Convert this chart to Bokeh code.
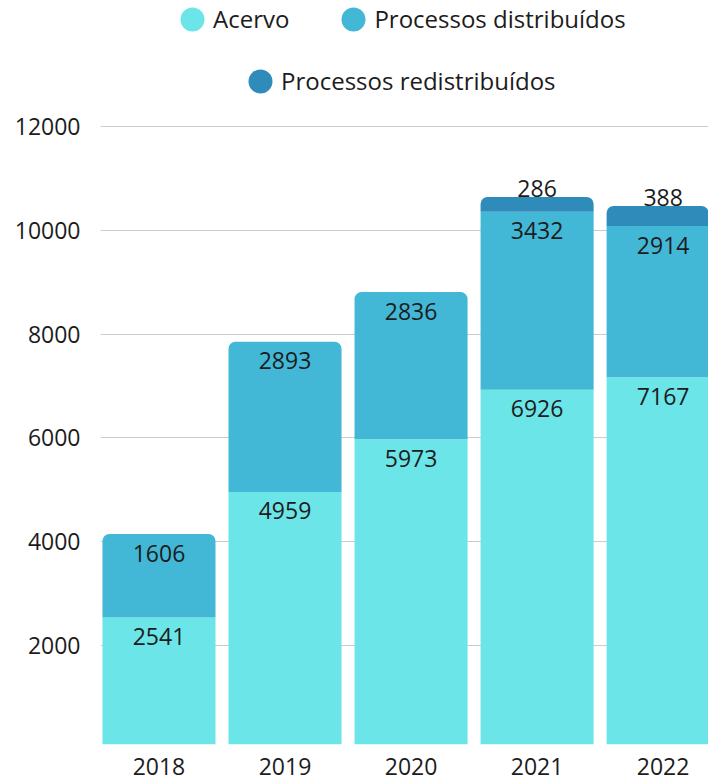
from bokeh.plotting import figure
from bokeh.models import (ColumnDataSource, Range1d, FixedTicker, Legend, LegendItem,
                          CDSView, IndexFilter)
from bokeh.core.properties import value
from bokeh.embed import file_html
from bokeh.resources import INLINE

years = ["2018", "2019", "2020", "2021", "2022"]
acervo = [2541, 4959, 5973, 6926, 7167]
distribuidos = [1606, 2893, 2836, 3432, 2914]
redistribuidos = [0, 0, 0, 286, 388]
y_ticks = [2000, 4000, 6000, 8000, 10000, 12000]

series_names = ["Acervo", "Processos distribuídos", "Processos redistribuídos"]
colors = ["#6be5e8", "#42b8d6", "#2e8bba"]
FONT = "Open Sans"
TXT = "#1c1c1c"

x = list(range(len(years)))
top1 = acervo
top2 = [a + d for a, d in zip(acervo, distribuidos)]
top3 = [t + r for t, r in zip(top2, redistribuidos)]

src = ColumnDataSource(dict(
    x=x, zero=[0] * len(x), top1=top1, top2=top2, top3=top3,
    hide=[float("nan")] * len(x),
    lab1=[str(v) for v in acervo], lab2=[str(v) for v in distribuidos],
    lab3=[str(v) if v else "" for v in redistribuidos],
))

p = figure(width=708, height=782, output_backend="svg", toolbar_location=None,
           x_range=Range1d(-0.464, 4.36), y_range=Range1d(92, 14428),
           min_border_left=100, min_border_right=0, min_border_top=0,
           min_border_bottom=38, outline_line_color=None, background_fill_color="white")

W = 0.897
has_red = [i for i, r in enumerate(redistribuidos) if r]
no_red = [i for i, r in enumerate(redistribuidos) if not r]

r1 = p.vbar(x="x", bottom="zero", top="top1", width=W, source=src,
            fill_color=colors[0], line_color=None)
r2a = p.vbar(x="x", bottom="top1", top="top2", width=W, source=src,
             view=CDSView(filter=IndexFilter(no_red)),
             fill_color=colors[1], line_color=None, border_radius=(7, 7, 0, 0))
r2b = p.vbar(x="x", bottom="top1", top="top2", width=W, source=src,
             view=CDSView(filter=IndexFilter(has_red)),
             fill_color=colors[1], line_color=None)
r3 = p.vbar(x="x", bottom="top2", top="top3", width=W, source=src,
            view=CDSView(filter=IndexFilter(has_red)),
            fill_color=colors[2], line_color=None, border_radius=(7, 7, 0, 0))

tk = dict(text_font=value(FONT), text_font_size="23px", text_color=TXT,
          text_align="center", text_baseline="middle")
p.text(x="x", y="top1", text="lab1", y_offset=19, source=src, **tk)
p.text(x="x", y="top2", text="lab2", y_offset=19, source=src, **tk)
p.text(x="x", y="top3", text="lab3", y_offset=-8, source=src, **tk)

# axes
p.xaxis.ticker = FixedTicker(ticks=x)
p.xaxis.major_label_overrides = {i: y for i, y in zip(x, years)}
p.yaxis.ticker = FixedTicker(ticks=y_ticks)
for ax in (p.xaxis[0], p.yaxis[0]):
    ax.axis_line_color = None
    ax.major_tick_line_color = None
    ax.minor_tick_line_color = None
    ax.major_tick_out = 0
    ax.major_tick_in = 0
    ax.major_label_text_font = FONT
    ax.major_label_text_font_size = "23px"
    ax.major_label_text_color = TXT
p.xaxis.major_label_standoff = 13
p.yaxis.major_label_standoff = 20
p.xgrid.grid_line_color = None
p.ygrid.ticker = FixedTicker(ticks=y_ticks)
p.ygrid.grid_line_color = "#cccccc"
p.ygrid.grid_line_width = 1

# legend-only renderers (NaN y, so nothing is drawn in the plot)
m = [p.ellipse(x="x", y="hide", width=24, height=24, width_units="screen",
               height_units="screen", source=src, fill_color=c, line_color=None)
     for c in colors]

leg_common = dict(orientation="horizontal", glyph_width=30, glyph_height=30,
                  label_standoff=6, padding=0, margin=0, border_line_color=None,
                  background_fill_alpha=0, label_text_font=FONT,
                  label_text_font_size="24px", label_text_color=TXT,
                  label_text_baseline="middle", spacing=49)
leg1 = Legend(items=[LegendItem(label=series_names[0], renderers=[m[0]]),
                     LegendItem(label=series_names[1], renderers=[m[1]])],
              location=(77, 709), **leg_common)
leg2 = Legend(items=[LegendItem(label=series_names[2], renderers=[m[2]])],
              location=(145, 647), **leg_common)
p.add_layout(leg1, "center")
p.add_layout(leg2, "center")

open("out.html", "w").write(file_html(p, INLINE))
